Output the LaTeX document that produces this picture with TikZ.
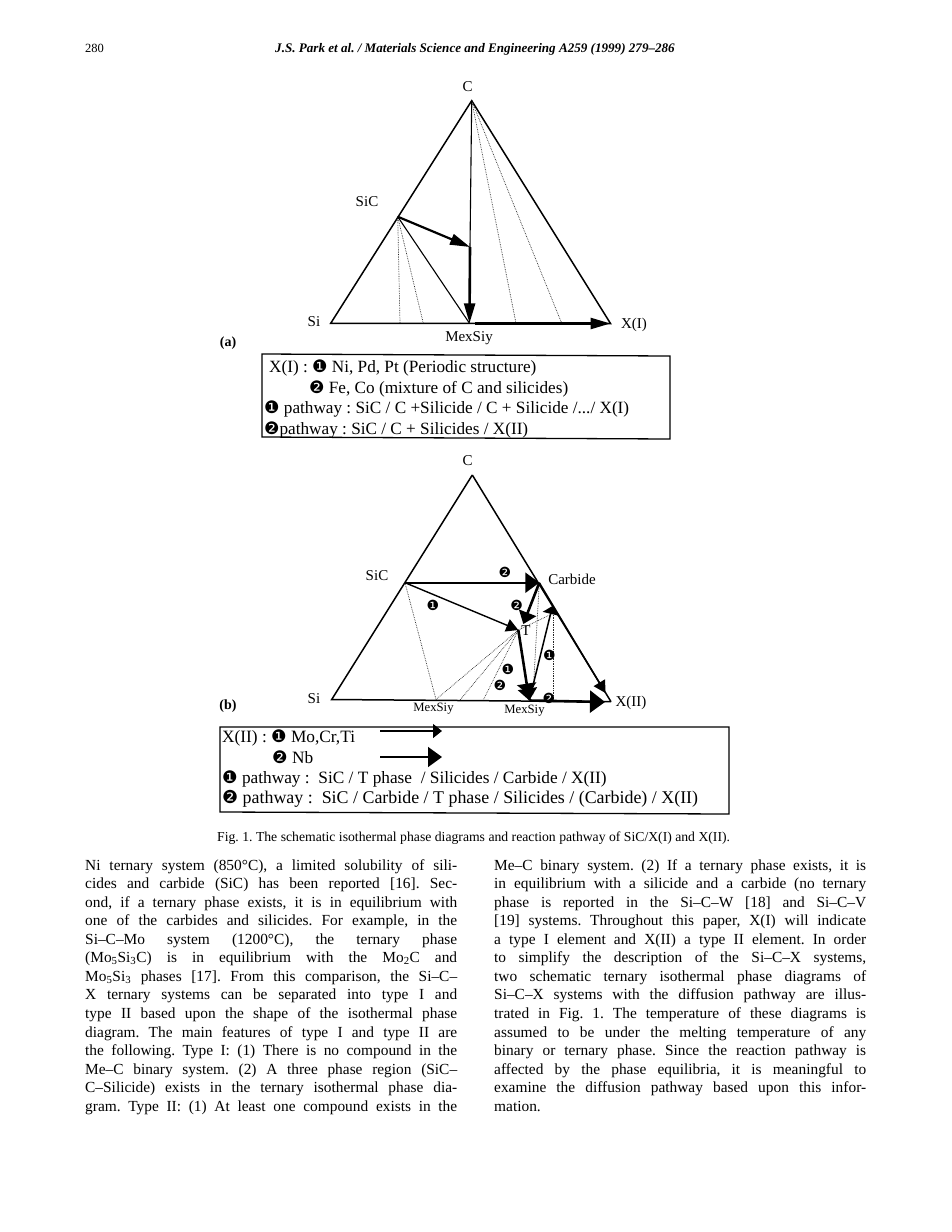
\documentclass[tikz,border=0pt]{standalone}
\usepackage{fontspec}
\setmainfont{Liberation Serif}
\newfontfamily\dvfont{DejaVu Sans}
\usetikzlibrary{arrows.meta}
\newcommand{\one}{{\dvfont ❶}}
\newcommand{\two}{{\dvfont ❷}}
\frenchspacing
\tikzset{
  edge/.style={line width=1.5pt,black},
  thinline/.style={line width=1.1pt,black},
  tie/.style={line width=0.7pt,black!85,densely dotted},
  lab/.style={inner sep=0pt,font=\fontsize{15}{17}\selectfont},
  labs/.style={inner sep=0pt,font=\fontsize{12.7}{14}\selectfont},
  num/.style={inner sep=0pt,font=\fontsize{14}{15}\selectfont\dvfont},
  legend/.style={anchor=base west,inner sep=0pt,font=\fontsize{17.2}{20}\selectfont},
  legendb/.style={anchor=base west,inner sep=0pt,font=\fontsize{17.3}{20}\selectfont},
  body/.style={anchor=base west,inner sep=0pt,font=\fontsize{15.4}{16}\selectfont},
  box/.style={line width=1.3pt,black},
  heada/.style={-{Triangle[length=20pt,width=11pt]}},
  headc/.style={-{Triangle[length=12pt,width=13pt]}}
}
\newcommand{\jl}[4]{\node[body] (#1) at (#2,#3) {\hbox to 372pt{#4}};}
\newcommand{\nl}[4]{\node[body] (#1) at (#2,#3) {#4};}
\begin{document}
\begin{tikzpicture}[x=1pt,y=-1pt]
\useasboundingbox (0,0) rectangle (952,1232);
% header
\node[anchor=base west,inner sep=0pt,font=\fontsize{12.5}{14}\selectfont] (pg) at (85,52) {280};
\node[anchor=base west,inner sep=0pt,font=\fontsize{13.1}{15}\selectfont\bfseries\itshape] (hd) at (275,52) {J.S. Park et al. / Materials Science and Engineering A259 (1999) 279–286};
% diagram a
\coordinate (aC) at (471.7,100.7);
\coordinate (aSi) at (330.7,323.3);
\coordinate (aX) at (610.5,323.5);
\coordinate (aS) at (397.7,216.7);
\coordinate (aM) at (469.5,323.3);
\coordinate (aK) at (470,247);
\coordinate (aD1) at (400,323.3);
\coordinate (aD2) at (423.3,323.3);
\coordinate (aD3) at (516,323.3);
\coordinate (aD4) at (561.7,323.3);
\coordinate (aB) at (475,323.5);
\draw[edge] (aC) -- (aSi) -- (aX) -- cycle;
\draw[tie] (aS) -- (aD1);
\draw[tie] (aS) -- (aD2);
\draw[tie] (aC) -- (aD3);
\draw[tie] (aC) -- (aD4);
\draw[thinline] (aS) -- (aM);
\draw[thinline] (aC) -- (aK);
\draw[line width=2.2pt,heada] (aS) -- (aK);
\draw[line width=2.6pt,heada] (aK) -- (aM);
\draw[line width=2.6pt,heada] (aB) -- (aX);
\node[lab] (tC) at (467.5,87) {C};
\node[lab] (tSiC) at (367,202) {SiC};
\node[lab] (tSi) at (314,322) {Si};
\node[lab] (tXI) at (634,325) {X(I)};
\node[lab] (tMex) at (469,338.5) {MexSiy};
\node[lab,font=\fontsize{14}{16}\selectfont\bfseries] (ta) at (228,343) {(a)};
% legend a
\coordinate (la1) at (262,354);
\coordinate (la2) at (670,356);
\coordinate (la3) at (670,439);
\coordinate (la4) at (262,437);
\draw[box] (la1) -- (la2) -- (la3) -- (la4) -- cycle;
\node[legend] (a1) at (269,372) {X(I) : \one\ Ni, Pd, Pt (Periodic structure)};
\node[legend] (a2) at (309,393) {\two\ Fe, Co (mixture of C and silicides)};
\node[legend] (a3) at (264,413) {\one\ pathway : SiC / C +Silicide / C + Silicide /.../ X(I)};
\node[legend] (a4) at (264,434) {\two pathway : SiC / C + Silicides / X(II)};
% diagram b
\coordinate (bC) at (472.3,475);
\coordinate (bSi) at (331.7,699.5);
\coordinate (bX) at (611,701.7);
\coordinate (bS) at (405,582.7);
\coordinate (bK) at (539.3,582.7);
\coordinate (bT) at (518.3,630);
\coordinate (bE) at (553.3,613.3);
\coordinate (bEt) at (552.5,606);
\coordinate (bM1) at (436,699.5);
\coordinate (bM2) at (460,700);
\coordinate (bM3) at (483.3,700);
\coordinate (bM4) at (529.3,700.5);
\coordinate (bM5) at (533,695);
\coordinate (bB) at (553.3,701);
\coordinate (bKT) at (523.3,624);
\coordinate (bEnd) at (605.5,693);
\coordinate (bR) at (605,702);
\draw[edge] (bC) -- (bSi) -- (bX);
\draw[edge] (bC) -- (bX);
\draw[tie] (bS) -- (bM1);
\draw[tie] (bT) -- (bM1);
\draw[tie] (bT) -- (bM2);
\draw[tie] (bT) -- (bM3);
\draw[tie] (bT) -- (bE);
\draw[tie] (bK) -- (bM5);
\draw[tie] (bE) -- (bB);
\draw[line width=2.4pt,-{Triangle[length=14pt,width=20pt]}] (bS) -- (bK);
\draw[line width=1.4pt,headc] (bS) -- (bT);
\draw[line width=2.6pt,-{Triangle[length=12pt,width=18pt]}] (bK) -- (bKT);
\draw[line width=2.6pt,-{Triangle[length=11pt,width=19pt,sep=-6pt]Triangle[length=12pt,width=19pt]}] (bT) -- (bM4);
\draw[line width=1.5pt,-{Triangle[length=8pt,width=16pt]}] (bM4) -- (bEt);
\draw[line width=1.5pt,headc] (bK) -- (bEnd);
\draw[line width=2.6pt,-{Triangle[length=15pt,width=22pt]}] (bM4) -- (bR);
\node[lab] (bt1) at (467.5,461) {C};
\node[lab] (bt2) at (377,576) {SiC};
\node[lab] (bt3) at (572,579) {Carbide};
\node[lab] (bt4) at (526,631) {T};
\node[lab] (bt5) at (314,699) {Si};
\node[lab] (bt6) at (631,703) {X(II)};
\node[labs] (bt7) at (433.5,709) {MexSiy};
\node[labs] (bt8) at (524.5,710.5) {MexSiy};
\node[lab,font=\fontsize{14}{16}\selectfont\bfseries] (tb) at (228,706) {(b)};
\node[num] (n1) at (505,572.7) {❷};
\node[num] (n2) at (433,605.7) {❶};
\node[num] (n3) at (516.7,605.7) {❷};
\node[num] (n4) at (549.3,655.7) {❶};
\node[num] (n5) at (508,669.3) {❶};
\node[num] (n6) at (500,685) {❷};
\node[num] (n7) at (549,698.5) {❷};
% legend b
\coordinate (lb1) at (220,727);
\coordinate (lb2) at (729,727);
\coordinate (lb3) at (729,814);
\coordinate (lb4) at (220,812);
\draw[box] (lb1) -- (lb2) -- (lb3) -- (lb4) -- cycle;
\node[legendb] (b1) at (222,742) {X(II) : \one\ Mo,Cr,Ti};
\node[legendb] (b2) at (272,763) {\two\ Nb};
\node[legendb] (b3) at (222,783) {\one\ pathway :\ \ SiC / T phase\ \ / Silicides / Carbide / X(II)};
\node[legendb,font=\fontsize{17.9}{20}\selectfont] (b4) at (222,803) {\two\ pathway :\ \ SiC / Carbide / T phase / Silicides / (Carbide) / X(II)};
\coordinate (k1a) at (380,731);
\coordinate (k1b) at (442,731);
\coordinate (k2a) at (380,757);
\coordinate (k2b) at (442,757);
\draw[line width=1.3pt,-{Triangle[length=9pt,width=14pt]}] (k1a) -- (k1b);
\draw[line width=1.6pt,-{Triangle[length=14pt,width=20pt]}] (k2a) -- (k2b);
% caption
\node[anchor=base west,inner sep=0pt,font=\fontsize{13.7}{15}\selectfont] (cap) at (217,841) {Fig. 1. The schematic isothermal phase diagrams and reaction pathway of SiC/X(I) and X(II).};
% left column
\jl{l1}{85}{870}{Ni ternary system (850°C), a limited solubility of sili-}
\jl{l2}{85}{888.5}{cides and carbide (SiC) has been reported [16]. Sec-}
\jl{l3}{85}{907}{ond, if a ternary phase exists, it is in equilibrium with}
\jl{l4}{85}{925.6}{one of the carbides and silicides. For example, in the}
\jl{l5}{85}{944.2}{Si–C–Mo system (1200°C), the ternary phase}
\jl{l6}{85}{962.8}{(Mo\textsubscript{5}Si\textsubscript{3}C) is in equilibrium with the Mo\textsubscript{2}C and}
\jl{l7}{85}{981.3}{Mo\textsubscript{5}Si\textsubscript{3} phases [17]. From this comparison, the Si–C–}
\jl{l8}{85}{999.8}{X ternary systems can be separated into type I and}
\jl{l9}{85}{1018.4}{type II based upon the shape of the isothermal phase}
\jl{l10}{85}{1037}{diagram. The main features of type I and type II are}
\jl{l11}{85}{1055.5}{the following. Type I: (1) There is no compound in the}
\jl{l12}{85}{1074}{Me–C binary system. (2) A three phase region (SiC–}
\jl{l13}{85}{1092.6}{C–Silicide) exists in the ternary isothermal phase dia-}
\jl{l14}{85}{1111.2}{gram. Type II: (1) At least one compound exists in the}
% right column
\jl{r1}{494}{870}{Me–C binary system. (2) If a ternary phase exists, it is}
\jl{r2}{494}{888.5}{in equilibrium with a silicide and a carbide (no ternary}
\jl{r3}{494}{907}{phase is reported in the Si–C–W [18] and Si–C–V}
\jl{r4}{494}{925.6}{[19] systems. Throughout this paper, X(I) will indicate}
\jl{r5}{494}{944.2}{a type I element and X(II) a type II element. In order}
\jl{r6}{494}{962.8}{to simplify the description of the Si–C–X systems,}
\jl{r7}{494}{981.3}{two schematic ternary isothermal phase diagrams of}
\jl{r8}{494}{999.8}{Si–C–X systems with the diffusion pathway are illus-}
\jl{r9}{494}{1018.4}{trated in Fig. 1. The temperature of these diagrams is}
\jl{r10}{494}{1037}{assumed to be under the melting temperature of any}
\jl{r11}{494}{1055.5}{binary or ternary phase. Since the reaction pathway is}
\jl{r12}{494}{1074}{affected by the phase equilibria, it is meaningful to}
\jl{r13}{494}{1092.6}{examine the diffusion pathway based upon this infor-}
\nl{r14}{494}{1111.2}{mation.}
\end{tikzpicture}
\end{document}
